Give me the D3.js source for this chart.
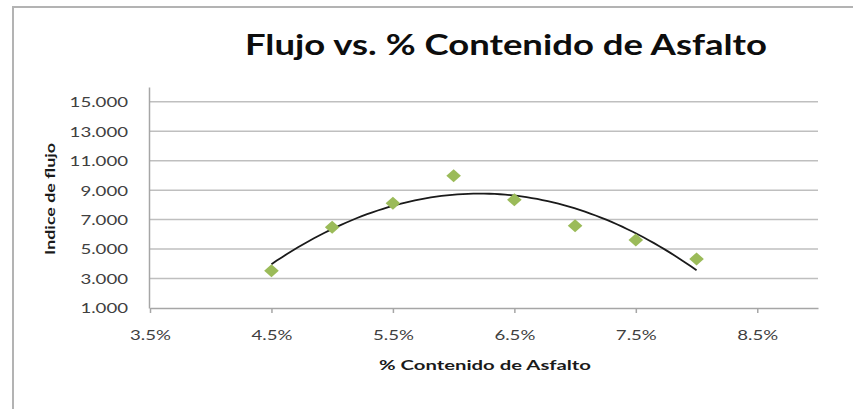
<!DOCTYPE html>
<html>
<head>
<meta charset="utf-8">
<script src="https://cdn.jsdelivr.net/npm/d3@7"></script>
<style>
  html, body { margin: 0; padding: 0; background: #fff; }
  svg { display: block; }
</style>
</head>
<body>
<svg id="chart" width="853" height="409"></svg>
<script>
// ---- Data ----
const asphaltContent = [0.045, 0.050, 0.055, 0.060, 0.065, 0.070, 0.075, 0.080];
const flowIndex      = [3535, 6485, 8115, 9970, 8340, 6590, 5620, 4330];
const xTickValues = [0.035, 0.045, 0.055, 0.065, 0.075, 0.085];
const yTickValues = [1000, 3000, 5000, 7000, 9000, 11000, 13000, 15000];
const chartTitle = "Flujo vs. % Contenido de Asfalto";
const xTitle = "% Contenido de Asfalto";
const yTitle = "Indice de flujo";

// ---- Layout ----
const svg = d3.select("#chart");
const x = d3.scaleLinear().domain([0.035, 0.090]).range([150, 818]);
const y = d3.scaleLinear().domain([1000, 16000]).range([308, 87]);
const sx = 1.38; // horizontal stretch of the reference's text

const esLocale = d3.formatLocale({decimal: ",", thousands: ".", grouping: [3], currency: ["", "€"]});
const yFmt = esLocale.format(",.0f");
const xFmt = d3.format(".1%");

function stretch(sel, k) {
  sel.each(function() {
    const w = this.getComputedTextLength();
    d3.select(this).attr("textLength", w * k).attr("lengthAdjust", "spacingAndGlyphs");
  });
}

// chart border
svg.append("rect")
  .attr("x", 13).attr("y", 7).attr("width", 900).attr("height", 450)
  .attr("fill", "none").attr("stroke", "#b3b3b3").attr("stroke-width", 2);

// gridlines
svg.append("g")
  .selectAll("line")
  .data(yTickValues.filter(v => v > 1000))
  .join("line")
  .attr("x1", x(0.035)).attr("x2", x(0.090))
  .attr("y1", d => y(d)).attr("y2", d => y(d))
  .attr("stroke", "#bfbfbf").attr("stroke-width", 1.5);

// y axis
const yAxis = svg.append("g")
  .attr("transform", `translate(${x(0.035) - 1},0)`)
  .call(d3.axisLeft(y).tickValues(yTickValues).tickFormat(yFmt).tickSize(0).tickPadding(21));
yAxis.select(".domain").attr("stroke", "#a6a6a6").attr("stroke-width", 1.5);
yAxis.selectAll("text")
  .attr("font-family", "Lato, 'Open Sans', sans-serif")
  .attr("font-size", 13.5)
  .attr("fill", "#404040")
  .attr("dy", "0.36em");
stretch(yAxis.selectAll("text"), sx);

// x axis
const xAxis = svg.append("g")
  .attr("transform", `translate(0,${y(1000)})`)
  .call(d3.axisBottom(x).tickValues(xTickValues).tickFormat(xFmt).tickSize(5).tickSizeOuter(0).tickPadding(18));
xAxis.select(".domain").attr("stroke", "#a6a6a6").attr("stroke-width", 1.5);
xAxis.selectAll(".tick line").attr("stroke", "#a6a6a6").attr("stroke-width", 1.5);
xAxis.selectAll("text")
  .attr("font-family", "Lato, 'Open Sans', sans-serif")
  .attr("font-size", 13.5)
  .attr("fill", "#404040")
  .attr("dy", "0");
xAxis.selectAll("text").attr("y", 32);
stretch(xAxis.selectAll("text"), sx);

// ---- polynomial (order 2) trendline by least squares ----
const n = asphaltContent.length;
const xm = d3.mean(asphaltContent);
const us = asphaltContent.map(v => (v - xm) * 100);
let S = [0,0,0,0,0], T = [0,0,0];
us.forEach((u, i) => {
  for (let k = 0; k < 5; k++) S[k] += Math.pow(u, k);
  for (let k = 0; k < 3; k++) T[k] += Math.pow(u, k) * flowIndex[i];
});
function solve3(A, b) {
  const M = A.map((r, i) => r.concat([b[i]]));
  for (let c = 0; c < 3; c++) {
    let p = c;
    for (let r = c + 1; r < 3; r++) if (Math.abs(M[r][c]) > Math.abs(M[p][c])) p = r;
    [M[c], M[p]] = [M[p], M[c]];
    for (let r = 0; r < 3; r++) {
      if (r === c) continue;
      const f = M[r][c] / M[c][c];
      for (let k = c; k < 4; k++) M[r][k] -= f * M[c][k];
    }
  }
  return M.map((r, i) => r[3] / r[i]);
}
const coef = solve3([[S[0], S[1], S[2]], [S[1], S[2], S[3]], [S[2], S[3], S[4]]], T);
const fit = v => { const u = (v - xm) * 100; return coef[0] + coef[1] * u + coef[2] * u * u; };
const xMin = d3.min(asphaltContent), xMax = d3.max(asphaltContent);
const trend = d3.range(0, 81).map(i => xMin + (xMax - xMin) * i / 80);

svg.append("path")
  .datum(trend)
  .attr("fill", "none")
  .attr("stroke", "#1a1a1a")
  .attr("stroke-width", 1.8)
  .attr("d", d3.line().x(d => x(d)).y(d => y(fit(d))));

// points (green diamonds)
const diamond = "M0,-6.5 L7.3,0 L0,6.5 L-7.3,0 Z";
svg.append("g")
  .selectAll("path")
  .data(asphaltContent.map((v, i) => [v, flowIndex[i]]))
  .join("path")
  .attr("d", diamond)
  .attr("transform", d => `translate(${x(d[0])},${y(d[1])})`)
  .attr("fill", "#9bbb59");

// titles
const t = svg.append("text")
  .attr("x", 506).attr("y", 55)
  .attr("text-anchor", "middle")
  .attr("font-family", "Lato, 'Open Sans', sans-serif")
  .attr("font-weight", "bold")
  .attr("font-size", 28)
  .attr("fill", "#0d0d0d")
  .attr("textLength", 522).attr("lengthAdjust", "spacingAndGlyphs")
  .text(chartTitle);

svg.append("text")
  .attr("x", 485).attr("y", 370)
  .attr("text-anchor", "middle")
  .attr("font-family", "Lato, 'Open Sans', sans-serif")
  .attr("font-weight", "bold")
  .attr("font-size", 13.5)
  .attr("fill", "#1a1a1a")
  .attr("textLength", 212).attr("lengthAdjust", "spacingAndGlyphs")
  .text(xTitle);

svg.append("text")
  .attr("transform", "translate(55,199) rotate(-90)")
  .attr("text-anchor", "middle")
  .attr("font-family", "Lato, 'Open Sans', sans-serif")
  .attr("font-weight", "bold")
  .attr("font-size", 13.5)
  .attr("fill", "#1a1a1a")
  .attr("textLength", 112).attr("lengthAdjust", "spacingAndGlyphs")
  .text(yTitle);
</script>
</body>
</html>
